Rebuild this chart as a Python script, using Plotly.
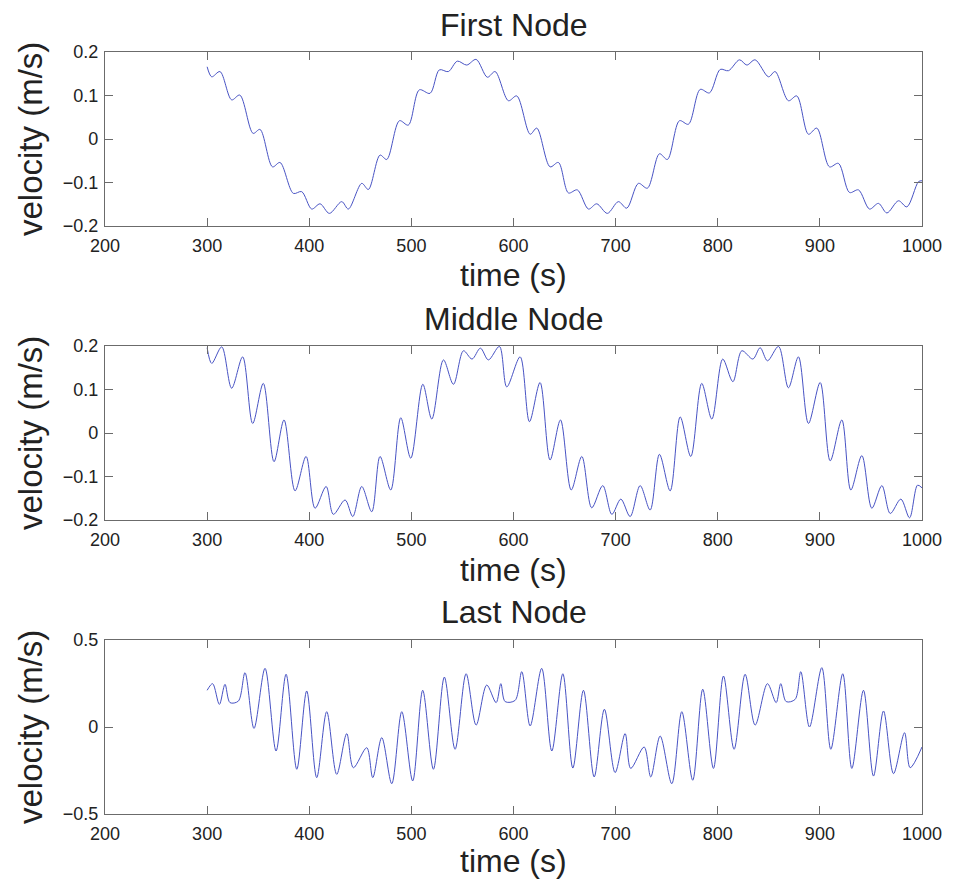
import plotly.graph_objects as go

# ---------------- data ----------------
x_ticks = [200, 300, 400, 500, 600, 700, 800, 900, 1000]
y_ticks_small = [-0.2, -0.1, 0, 0.1, 0.2]
y_ticks_small_text = ["\u22120.2", "\u22120.1", "0", "0.1", "0.2"]
y_ticks_last = [-0.5, 0, 0.5]
y_ticks_last_text = ["\u22120.5", "0", "0.5"]

titles = ["First Node", "Middle Node", "Last Node"]

t_first = [300, 304.5, 312.6, 324, 332, 345, 351.8, 364, 371.4, 384.4, 392.6, 402.4, 410.6, 419.7,
           431.8, 438.3, 451.4, 457.9, 469.3, 475.9, 488.3, 497, 507.8, 518.3, 527.4, 536.2, 545,
           554.2, 563.4, 574.4, 582, 595, 603.2, 616.3, 622.8, 635.8, 644, 653.8, 662.5, 673.4,
           681.5, 691.9, 702.7, 710.9, 722.3, 731.1, 742.9, 750.7, 762.5, 771.3, 782.8, 791.9,
           802.4, 810.5, 821.3, 828.5, 836.6, 849.7, 856.2, 869.2, 877.4, 888.8, 897, 909.4,
           918.2, 929, 937.8, 948.6, 957.4, 965.6, 977, 985.2, 996.6, 1000]
v_first = [0.166, 0.143, 0.155, 0.090, 0.101, 0.013, 0.022, -0.064, -0.054, -0.125, -0.121, -0.161,
           -0.149, -0.171, -0.144, -0.161, -0.102, -0.116, -0.037, -0.047, 0.042, 0.032, 0.113,
           0.105, 0.159, 0.155, 0.179, 0.170, 0.183, 0.142, 0.155, 0.088, 0.099, 0.011, 0.025,
           -0.064, -0.054, -0.124, -0.117, -0.161, -0.149, -0.171, -0.144, -0.159, -0.102, -0.113,
           -0.034, -0.047, 0.042, 0.034, 0.114, 0.106, 0.160, 0.157, 0.182, 0.170, 0.182, 0.143,
           0.155, 0.088, 0.099, 0.011, 0.025, -0.064, -0.056, -0.123, -0.117, -0.161, -0.148,
           -0.170, -0.142, -0.156, -0.098, -0.096]

t_middle = [300, 304.5, 314.3, 324, 334.8, 344.6, 355, 365.5, 375.3, 386.1, 396.9, 405.7, 416.5,
            423.6, 435.1, 442.6, 451.4, 461.2, 469.3, 479.8, 489.6, 499.4, 511.2, 520, 531.4,
            541.2, 551, 559.4, 567.6, 575.4, 586.2, 593.4, 606.5, 615.6, 626, 635.8, 646, 656.5,
            666.9, 676.6, 687.4, 696.3, 705.1, 714.2, 724, 733.8, 742.9, 753.4, 763.2, 773.6,
            784.3, 794.2, 804.9, 814.8, 823.6, 834.4, 841.5, 848.7, 859.5, 869.2, 879, 888.8,
            900.3, 910.1, 921.5, 930.3, 941.1, 950.9, 960.7, 968.9, 979.3, 987.8, 995.6, 1000]
v_middle = [0.196, 0.160, 0.198, 0.103, 0.175, 0.022, 0.114, -0.066, 0.030, -0.133, -0.054, -0.173,
            -0.123, -0.187, -0.154, -0.192, -0.123, -0.181, -0.054, -0.131, 0.035, -0.058, 0.112,
            0.032, 0.168, 0.112, 0.189, 0.170, 0.195, 0.168, 0.199, 0.106, 0.175, 0.026, 0.116,
            -0.062, 0.030, -0.131, -0.054, -0.172, -0.121, -0.187, -0.152, -0.192, -0.121, -0.177,
            -0.049, -0.133, 0.037, -0.054, 0.114, 0.032, 0.170, 0.118, 0.189, 0.170, 0.196, 0.166,
            0.199, 0.104, 0.175, 0.022, 0.116, -0.064, 0.030, -0.131, -0.052, -0.173, -0.121,
            -0.185, -0.152, -0.195, -0.120, -0.126]

t_last = [300, 305.4, 312, 317.5, 322.4, 330.6, 337.1, 345.9, 356.7, 367.5, 377.3, 387.8, 397.5,
          407.3, 417.1, 426.9, 436.7, 443.2, 456.3, 462.2, 471, 480.8, 490.6, 501.3, 511.1, 521.6,
          532.3, 542.8, 553.6, 563.4, 573.8, 583, 587.6, 591.8, 601.6, 608.1, 616.3, 627.6, 637.5,
          648.3, 658.1, 668.5, 679, 689, 699.5, 709.3, 714.8, 727.9, 734.4, 743.6, 755, 764.8,
          775.5, 785.3, 795.8, 805.6, 816, 826.8, 836.6, 848.7, 857.2, 861.7, 867, 875.8, 881.3,
          889.8, 901.9, 910.7, 922.4, 931.3, 942.7, 952.5, 962.3, 972.1, 982.9, 988.4, 1000]
v_last = [0.211, 0.249, 0.130, 0.245, 0.140, 0.149, 0.312, -0.008, 0.337, -0.138, 0.303, -0.243,
          0.207, -0.291, 0.088, -0.272, -0.038, -0.234, -0.119, -0.291, -0.061, -0.326, 0.088,
          -0.310, 0.211, -0.243, 0.287, -0.128, 0.306, 0.011, 0.241, 0.140, 0.249, 0.146, 0.153,
          0.318, 0.006, 0.337, -0.138, 0.306, -0.236, 0.211, -0.287, 0.102, -0.262, -0.038,
          -0.238, -0.115, -0.287, -0.052, -0.326, 0.088, -0.306, 0.217, -0.238, 0.293, -0.128,
          0.303, 0.011, 0.249, 0.140, 0.249, 0.146, 0.159, 0.318, 0.0, 0.341, -0.128, 0.306,
          -0.238, 0.211, -0.282, 0.092, -0.268, -0.033, -0.234, -0.115]

# ---------------- layout geometry (screen pixels; page body adds an 8px offset) ----------------
OFF = 8
W, H = 953, 884
PX_L, PX_R = 105 - OFF, 922 - OFF
PX_T, PX_B = 52 - OFF, 814 - OFF
panels_px = [(52 - OFF, 226 - OFF), (346 - OFF, 520 - OFF), (640 - OFF, 814 - OFF)]
title_y_px = [25 - OFF, 319 - OFF, 612 - OFF]
xlabel_y_px = [275 - OFF, 570 - OFF, 861 - OFF]
ylabel_x_px = 30 - OFF

PW, PH = PX_R - PX_L, PX_B - PX_T


def px2x(p):
    return (p - PX_L) / PW


def px2y(p):
    return (PX_B - p) / PH


LINE_COLOR = "#4853c4"
AX_COLOR = "#6b6b6b"
TXT = "#222222"
FONT = "Liberation Sans, Arial, Helvetica, sans-serif"

series = [(t_first, v_first), (t_middle, v_middle), (t_last, v_last)]
yranges = [[-0.2, 0.2], [-0.2, 0.2], [-0.5, 0.5]]
yticks = [(y_ticks_small, y_ticks_small_text), (y_ticks_small, y_ticks_small_text),
          (y_ticks_last, y_ticks_last_text)]

fig = go.Figure()
annotations = []
for i, ((t, v), (top, bot)) in enumerate(zip(series, panels_px)):
    n = "" if i == 0 else str(i + 1)
    fig.add_trace(go.Scatter(x=t, y=v, mode="lines", xaxis="x" + n, yaxis="y" + n,
                             line=dict(color=LINE_COLOR, width=1, shape="spline", smoothing=0.9),
                             showlegend=False, hoverinfo="skip"))
    common = dict(showline=True, linecolor=AX_COLOR, linewidth=1.2, mirror="ticks",
                  ticks="inside", ticklen=8, tickcolor=AX_COLOR, tickwidth=1,
                  showgrid=False, zeroline=False, automargin=False,
                  tickfont=dict(family=FONT, size=18, color=TXT))
    fig.layout["xaxis" + n] = dict(domain=[0, 1], range=[200, 1000],
                                   tickvals=x_ticks, ticktext=[str(x) for x in x_ticks],
                                   anchor="y" + n, ticklabelstandoff=3, **common)
    fig.layout["yaxis" + n] = dict(domain=[max(0.0, px2y(bot)), min(1.0, px2y(top))],
                                   range=yranges[i],
                                   tickvals=yticks[i][0], ticktext=yticks[i][1],
                                   anchor="x" + n, ticklabelstandoff=2, **common)
    cx = px2x((PX_L + PX_R) / 2)
    annotations.append(dict(text=titles[i], x=cx, y=px2y(title_y_px[i]), xref="paper",
                            yref="paper", showarrow=False, xanchor="center", yanchor="middle",
                            font=dict(family=FONT, size=32, color=TXT)))
    annotations.append(dict(text="time (s)", x=cx, y=px2y(xlabel_y_px[i]), xref="paper",
                            yref="paper", showarrow=False, xanchor="center", yanchor="middle",
                            font=dict(family=FONT, size=32, color=TXT)))
    annotations.append(dict(text="velocity (m/s)", x=px2x(ylabel_x_px),
                            y=px2y((top + bot) / 2), xref="paper", yref="paper",
                            showarrow=False, xanchor="center", yanchor="middle", textangle=-90,
                            font=dict(family=FONT, size=33, color=TXT)))

fig.update_layout(width=W, height=H,
                  margin=dict(l=PX_L, r=W - PX_R, t=PX_T, b=H - PX_B, pad=0),
                  autosize=False,
                  paper_bgcolor="white", plot_bgcolor="white", annotations=annotations)

fig.write_html("out.html")
